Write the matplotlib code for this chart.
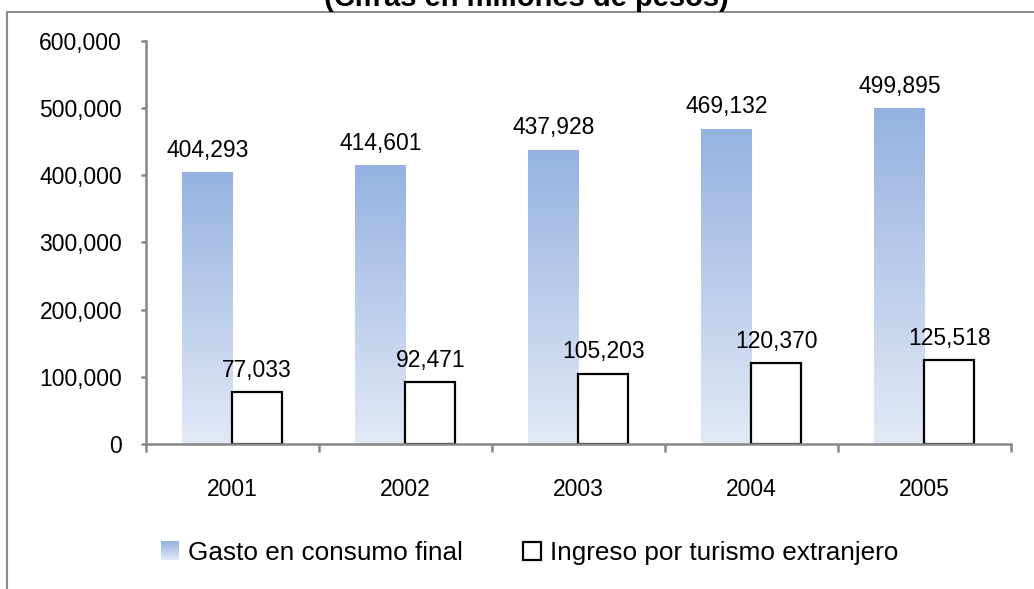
import matplotlib
matplotlib.use("Agg")
import matplotlib.pyplot as plt
import numpy as np
from matplotlib.patches import Rectangle
from matplotlib.legend_handler import HandlerBase
from matplotlib.colors import LinearSegmentedColormap, to_rgb

years = ["2001", "2002", "2003", "2004", "2005"]
gasto = [404293, 414601, 437928, 469132, 499895]
ingreso = [77033, 92471, 105203, 120370, 125518]
series_names = ["Gasto en consumo final", "Ingreso por turismo extranjero"]
title = "(Cifras en millones de pesos)"

plt.rcParams['font.family'] = ['Liberation Sans', 'DejaVu Sans']

TOP = "#95B2E1"
BOT = "#E2E9F6"
cmap = LinearSegmentedColormap.from_list("g", [BOT, TOP])

W, H = 1034, 589
fig = plt.figure(figsize=(W / 100, H / 100), dpi=100)
ax = fig.add_axes([145.7 / W, 1 - 444.3 / H, (1011 - 145.7) / W, (444.3 - 40.7) / H])

x = np.arange(len(years))
bw = 0.289
gcol = "#868686"
FS = 16.5

grad = np.linspace(0, 1, 256).reshape(-1, 1)
bars_g = ax.bar(x - bw / 2, gasto, width=bw, color="none", edgecolor="none",
                label=series_names[0])
for b, v in zip(bars_g, gasto):
    im = ax.imshow(grad, cmap=cmap, origin="lower", aspect="auto",
                   extent=[b.get_x(), b.get_x() + b.get_width(), 0, v], zorder=1)
    im.set_clip_path(b)
bars_i = ax.bar(x + bw / 2, ingreso, width=bw, color="white", edgecolor="black",
                linewidth=1.6, label=series_names[1], zorder=2)

for bars, vals in ((bars_g, gasto), (bars_i, ingreso)):
    for b, v in zip(bars, vals):
        ax.annotate(f"{v:,}", (b.get_x() + b.get_width() / 2, v), xytext=(0, 11),
                    textcoords="offset points", ha="center", va="baseline",
                    fontsize=FS, color="black")

ax.set_xlim(-0.5, len(years) - 0.5)
ax.set_ylim(0, 600000)
yt = np.arange(0, 600001, 100000)
ax.set_yticks(yt)
ax.set_yticklabels([f"{int(t):,}" for t in yt], fontsize=FS)
ax.set_xticks(x)
ax.set_xticklabels(years, fontsize=FS)
ax.set_xticks(np.arange(-0.5, len(years)), minor=True)
ax.tick_params(axis="x", which="major", length=0, pad=24)
ax.tick_params(axis="x", which="minor", length=6, color=gcol, width=1.8, direction="out")
ax.tick_params(axis="y", length=3.5, color=gcol, width=1.8, direction="out", pad=13.5)
for s in ["top", "right"]:
    ax.spines[s].set_visible(False)
for s in ["left", "bottom"]:
    ax.spines[s].set_color(gcol)
    ax.spines[s].set_linewidth(1.8)
ax.set_facecolor("none")


class GradHandler(HandlerBase):
    def create_artists(self, legend, orig_handle, xdescent, ydescent, width,
                       height, fontsize, trans):
        arts = []
        n = 20
        c0 = np.array(to_rgb(BOT))
        c1 = np.array(to_rgb(TOP))
        for k in range(n):
            f = (k + 0.5) / n
            r = Rectangle((-xdescent, -ydescent + height * k / n), width, height / n + 0.3,
                          facecolor=c0 + (c1 - c0) * f, edgecolor="none", transform=trans)
            arts.append(r)
        return arts


fig.legend([bars_g, bars_i], series_names, loc="center", ncol=2,
           bbox_to_anchor=(529.5 / W, 1 - 553 / H), frameon=False, fontsize=18.8,
           handlelength=0.7, handleheight=0.7, handletextpad=0.34, columnspacing=2.3,
           borderpad=0, borderaxespad=0, handler_map={bars_g: GradHandler()})

fig.text(526 / W, 1 - 6 / H, title, ha="center", va="baseline", fontsize=21,
         fontweight="bold")

fig.patches.append(Rectangle((7.3 / W, -0.2), 1.2, 1 - 12.3 / H + 0.2, transform=fig.transFigure,
                             facecolor="none", edgecolor="#8C8C8C", linewidth=1.5))

fig.savefig("out.png", dpi=100)
